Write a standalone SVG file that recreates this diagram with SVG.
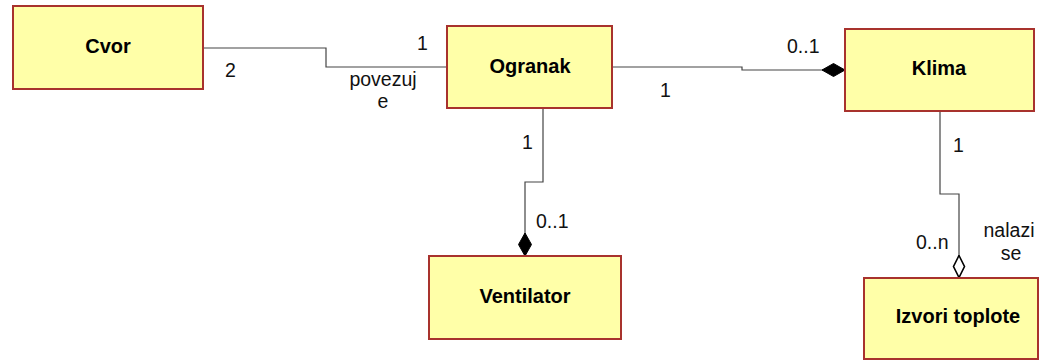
<svg xmlns="http://www.w3.org/2000/svg" width="1039" height="360" viewBox="0 0 1039 360">
<style>
.node rect{fill:#FFFFA8;stroke:#A8322D;stroke-width:2}
.node text{font-family:"Liberation Sans",Arial,sans-serif;font-weight:bold;font-size:20px;fill:#000;text-anchor:middle}
.conn path{fill:none;stroke:#444;stroke-width:1.2}
.lbl{font-family:"Liberation Sans",Arial,sans-serif;font-size:19.5px;fill:#111}
.mid{text-anchor:middle}
</style>
<defs>
<marker id="filled" markerUnits="userSpaceOnUse" markerWidth="24" markerHeight="16" refX="23" refY="7" orient="auto" viewBox="0 0 24 14">
<path d="M0,7 L11.5,0.5 L23,7 L11.5,13.5 Z" fill="#000" stroke="#000" stroke-width="1"/>
</marker>
<marker id="open" markerUnits="userSpaceOnUse" markerWidth="24" markerHeight="16" refX="23" refY="7" orient="auto" viewBox="0 0 24 14">
<path d="M0.5,7 L11.5,1.5 L22.5,7 L11.5,12.5 Z" fill="#fff" stroke="#000" stroke-width="1.6"/>
</marker>
</defs>
<rect width="1039" height="360" fill="#fff"/>
<g id="connectors" class="conn">
<path d="M203,48 H326 V67 H447"/>
<path d="M612,67 H742 V70 H845" marker-end="url(#filled)"/>
<path d="M543,108 V182 H525 V256" marker-end="url(#filled)"/>
<path d="M940,111 V194 H959 V278" marker-end="url(#open)"/>
</g>
<g id="labels">
<text class="lbl" x="225" y="77">2</text>
<text class="lbl" x="417" y="50">1</text>
<text class="lbl mid" x="383" y="86">povezuj</text>
<text class="lbl mid" x="383" y="108">e</text>
<text class="lbl" x="660" y="97">1</text>
<text class="lbl" x="787" y="53">0..1</text>
<text class="lbl" x="522" y="149">1</text>
<text class="lbl" x="536" y="228">0..1</text>
<text class="lbl" x="953" y="152">1</text>
<text class="lbl" x="916" y="249">0..n</text>
<text class="lbl mid" x="1009" y="237">nalazi</text>
<text class="lbl mid" x="1011" y="260">se</text>
</g>
<g id="cvor" class="node"><rect x="13" y="6" width="190" height="83"/><text x="108" y="53">Cvor</text></g>
<g id="ogranak" class="node"><rect x="447" y="26" width="165" height="82"/><text x="530" y="73">Ogranak</text></g>
<g id="klima" class="node"><rect x="845" y="29" width="189" height="82"/><text x="939" y="75">Klima</text></g>
<g id="ventilator" class="node"><rect x="429" y="256" width="192" height="83"/><text x="525" y="303">Ventilator</text></g>
<g id="izvori" class="node"><rect x="864" y="278" width="174" height="81"/><text x="958" y="323">Izvori toplote</text></g>
</svg>
